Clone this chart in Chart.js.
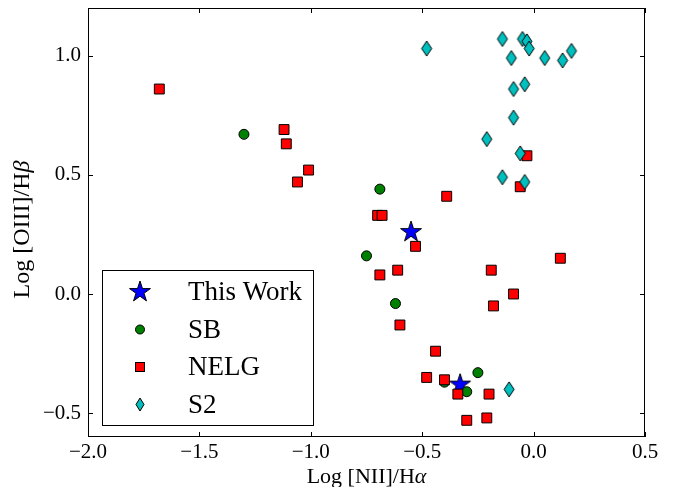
<!DOCTYPE html>
<html>
<head>
<meta charset="utf-8">
<script src="https://cdn.jsdelivr.net/npm/chart.js@4.4.1/dist/chart.umd.min.js"></script>
<style>
  html, body { margin:0; padding:0; background:#fff; }
</style>
</head>
<body>
<canvas id="chart" width="673" height="487"></canvas>
<script>
// ===== DATA =====
const seriesNames = ['This Work', 'SB', 'NELG', 'S2'];

const thisWorkX = [-0.55, -0.33];
const thisWorkY = [0.26, -0.38];

const sbX = [-1.30, -0.69, -0.75, -0.62, -0.25, -0.40, -0.30];
const sbY = [0.67, 0.44, 0.16, -0.04, -0.33, -0.37, -0.41];

const nelgX = [-1.68, -1.12, -1.11, -1.06, -1.01, -0.70, -0.68, -0.53, -0.39, -0.69, -0.61, -0.60,
               -0.44, -0.48, -0.40, -0.34, -0.20, -0.30, -0.21, -0.03, -0.06, 0.12, -0.19, -0.09, -0.18];
const nelgY = [0.86, 0.69, 0.63, 0.47, 0.52, 0.33, 0.33, 0.20, 0.41, 0.08, 0.10, -0.13,
               -0.24, -0.35, -0.36, -0.42, -0.42, -0.53, -0.52, 0.58, 0.45, 0.15, 0.10, 0.00, -0.05];

const s2X = [-0.48, -0.14, -0.05, -0.03, -0.02, -0.10, 0.05, 0.13, 0.17, -0.09, -0.04, -0.09,
             -0.21, -0.06, -0.14, -0.04, -0.11];
const s2Y = [1.03, 1.07, 1.07, 1.06, 1.03, 0.99, 0.99, 0.98, 1.02, 0.86, 0.88, 0.74,
             0.65, 0.59, 0.49, 0.47, -0.40];

const xTicks = [-2.0, -1.5, -1.0, -0.5, 0.0, 0.5];
const yTicks = [-0.5, 0.0, 0.5, 1.0];

const xTitle = [['Log [NII]/H', false], ['\u03b1', true]];
const yTitle = [['Log [OIII]/H', false], ['\u03b2', true]];

// ===== STYLE =====
const FONT = "'Liberation Serif', 'DejaVu Serif', serif";
const colors = { star:'#0000ff', sb:'#008000', nelg:'#ff0000', s2:'#00bfbf' };

function pts(xs, ys){
  return xs.map((x,i)=>({x:x, y:ys[i]}));
}

function fmt(v){
  const s = Math.abs(v).toFixed(1);
  return v < 0 ? '\u2212' + s : s;
}

// star marker (matplotlib '*')
function makeStar(r, fill){
  const size = Math.ceil(r*2 + 4);
  const c = document.createElement('canvas');
  c.width = size; c.height = size;
  const g = c.getContext('2d');
  g.translate(size/2, size/2);
  g.beginPath();
  for(let i=0;i<10;i++){
    const rr = i%2===0 ? r : r*0.382;
    const a = -Math.PI/2 + i*Math.PI/5;
    const px = rr*Math.cos(a), py = rr*Math.sin(a);
    if(i===0) g.moveTo(px,py); else g.lineTo(px,py);
  }
  g.closePath();
  g.fillStyle = fill; g.fill();
  g.lineWidth = 1; g.strokeStyle = '#000'; g.stroke();
  return c;
}

// thin diamond marker (matplotlib 'd')
function makeDiamond(w, h, fill){
  const c = document.createElement('canvas');
  c.width = Math.ceil(w + 4); c.height = Math.ceil(h + 4);
  const g = c.getContext('2d');
  g.translate(c.width/2, c.height/2);
  g.beginPath();
  g.moveTo(0, -h/2); g.lineTo(w/2, 0); g.lineTo(0, h/2); g.lineTo(-w/2, 0);
  g.closePath();
  g.fillStyle = fill; g.fill();
  g.lineWidth = 1; g.strokeStyle = '#000'; g.stroke();
  return c;
}

const starImg = makeStar(11, colors.star);
const diamondImg = makeDiamond(10, 15, colors.s2);
const legendDiamond = makeDiamond(8, 13, colors.s2);

// text with an italic greek letter, centred at x
function drawTitle(ctx, parts, x, y, size){
  let total = 0;
  parts.forEach(p=>{
    ctx.font = (p[1] ? 'italic ' : '') + size + 'px ' + FONT;
    total += ctx.measureText(p[0]).width;
  });
  let cx = x - total/2;
  ctx.textAlign = 'left';
  ctx.textBaseline = 'alphabetic';
  parts.forEach(p=>{
    ctx.font = (p[1] ? 'italic ' : '') + size + 'px ' + FONT;
    ctx.fillText(p[0], cx, y);
    cx += ctx.measureText(p[0]).width;
  });
}

// ===== FRAME, TICKS, TITLES, LEGEND =====
const framePlugin = {
  id:'frame',
  afterDatasetsDraw(chart){
    const {ctx, chartArea:a, scales:{x, y}} = chart;
    const tl = 5;
    ctx.save();
    ctx.strokeStyle = '#000';
    ctx.lineWidth = 1;
    ctx.strokeRect(a.left + 0.5, a.top + 0.5, a.right - a.left - 1, a.bottom - a.top - 1);

    ctx.beginPath();
    xTicks.forEach(v=>{
      const px = Math.round(x.getPixelForValue(v)) + 0.5;
      ctx.moveTo(px, a.bottom); ctx.lineTo(px, a.bottom - tl);
      ctx.moveTo(px, a.top); ctx.lineTo(px, a.top + tl);
    });
    yTicks.forEach(v=>{
      const py = Math.round(y.getPixelForValue(v)) + 0.5;
      ctx.moveTo(a.left, py); ctx.lineTo(a.left + tl, py);
      ctx.moveTo(a.right, py); ctx.lineTo(a.right - tl, py);
    });
    ctx.stroke();

    // axis titles
    ctx.fillStyle = '#000';
    drawTitle(ctx, xTitle, (a.left + a.right)/2, 483, 22);
    ctx.save();
    ctx.translate(29, (a.top + a.bottom)/2 + 7);
    ctx.rotate(-Math.PI/2);
    drawTitle(ctx, yTitle, 0, 0, 24);
    ctx.restore();

    // legend box
    const bx = 102, by = 270, bw = 211, bh = 155;
    ctx.fillStyle = '#fff';
    ctx.fillRect(bx, by, bw, bh);
    ctx.strokeRect(bx + 0.5, by + 0.5, bw, bh);

    const mx = 140, tx = 188;
    ctx.font = '27px ' + FONT;
    ctx.textBaseline = 'middle';
    ctx.textAlign = 'left';
    seriesNames.forEach((name, i)=>{
      const cy = 292 + i*37.5;
      if(i===0){
        ctx.drawImage(starImg, mx - starImg.width/2, cy - starImg.height/2);
      }else if(i===1){
        ctx.beginPath(); ctx.arc(mx, cy, 4.5, 0, Math.PI*2);
        ctx.fillStyle = colors.sb; ctx.fill(); ctx.stroke();
      }else if(i===2){
        ctx.fillStyle = colors.nelg;
        ctx.fillRect(mx - 4.5, cy - 4.5, 9, 9);
        ctx.strokeRect(mx - 4.5, cy - 4.5, 9, 9);
      }else{
        ctx.drawImage(legendDiamond, mx - legendDiamond.width/2, cy - legendDiamond.height/2);
      }
      ctx.fillStyle = '#000';
      ctx.fillText(name, tx, cy + 1);
    });
    ctx.restore();
  }
};

// ===== CHART =====
new Chart(document.getElementById('chart'), {
  type:'scatter',
  data:{
    datasets:[
      { label:seriesNames[3], data:pts(s2X, s2Y), pointStyle:diamondImg, order:1 },
      { label:seriesNames[2], data:pts(nelgX, nelgY), pointStyle:'rect', pointRadius:7,
        backgroundColor:colors.nelg, borderColor:'#000', borderWidth:1, order:2 },
      { label:seriesNames[1], data:pts(sbX, sbY), pointStyle:'circle', pointRadius:5,
        backgroundColor:colors.sb, borderColor:'#000', borderWidth:1, order:3 },
      { label:seriesNames[0], data:pts(thisWorkX, thisWorkY), pointStyle:starImg, order:4 }
    ]
  },
  options:{
    responsive:false,
    animation:false,
    layout:{ padding:{ left:0, right:28, top:7, bottom:0 } },
    plugins:{ legend:{ display:false }, tooltip:{ enabled:false } },
    scales:{
      x:{
        type:'linear', position:'bottom', min:-2.0, max:0.5,
        afterBuildTicks: s => { s.ticks = xTicks.map(v=>({value:v})); },
        afterFit: s => { s.height = 50; s.paddingLeft = 0; s.paddingRight = 0; },
        grid:{ display:false, drawTicks:false }, border:{ display:false },
        ticks:{ color:'#000', padding:3, font:{ family:FONT, size:21 }, callback: v => fmt(v), maxRotation:0 },
        title:{ display:false }
      },
      y:{
        type:'linear', position:'left', min:-0.6, max:1.2,
        afterBuildTicks: s => { s.ticks = yTicks.map(v=>({value:v})); },
        afterFit: s => { s.width = 88; s.paddingTop = 0; s.paddingBottom = 0; },
        grid:{ display:false, drawTicks:false }, border:{ display:false },
        ticks:{ color:'#000', padding:7, font:{ family:FONT, size:21 }, callback: v => fmt(v) },
        title:{ display:false }
      }
    }
  },
  plugins:[framePlugin]
});
</script>
</body>
</html>
